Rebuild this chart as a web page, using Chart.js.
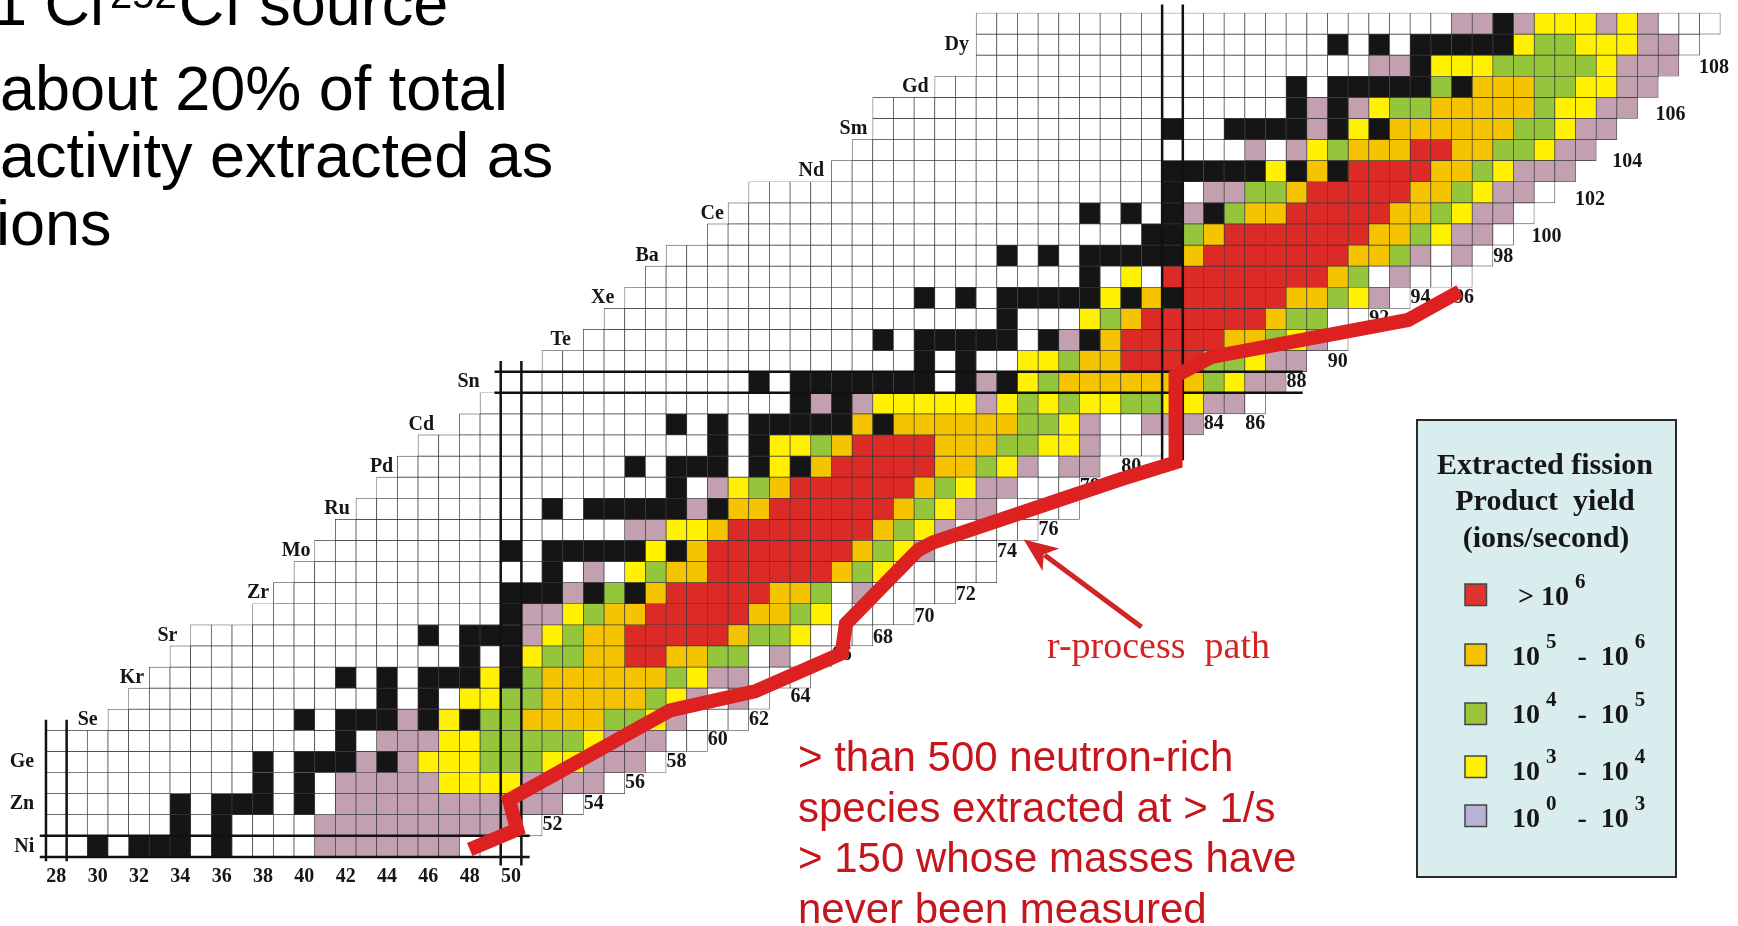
<!DOCTYPE html>
<html>
  <head>
    <script src="https://cdn.jsdelivr.net/npm/chart.js@4.4.1/dist/chart.umd.min.js"></script>
    <style>
      html, body { margin: 0; padding: 0; background: #ffffff; overflow: hidden; }
      .chart-container { position: relative; width: 1738px; height: 926px; }
    </style>
  </head>
  <body>
    <div class="chart-container"><canvas id="myChart"></canvas></div>
    <script>
      // proton number Z of each row and the first neutron number N drawn in it
      var rowZ = [28, 29, 30, 31, 32, 33, 34, 35, 36, 37, 38, 39, 40, 41, 42, 43, 44, 45, 46, 47,
                  48, 49, 50, 51, 52, 53, 54, 55, 56, 57, 58, 59, 60, 61, 62, 63, 64, 65, 66, 67];
      var rowStart = [28, 28, 28, 28, 28, 28, 31, 32, 33, 34, 35, 38, 39, 40, 41, 42, 43, 44, 45, 46,
                      48, 49, 50, 52, 54, 55, 56, 57, 58, 60, 61, 62, 66, 67, 68, 68, 71, 73, 73, 73];
      // cells of each row, run-length coded: w known, k stable, p 10^0-10^3, y 10^3-10^4,
      // g 10^4-10^5, o 10^5-10^6, r > 10^6
      var rowCells = [
        "2w k w 3k w k 4w 7p 3w",
        "6w k w k 4w 10p w",
        "6w k w 3k w k w 11p w",
        "10w k w k w 5p 4y 4p w",
        "10w k w 3k p k p 3y 3g 2y 3p w",
        "14w k w 3p 2y 5g y 3p 2w",
        "9w k w 3k p k y k 2g 4o 2g y p 3w",
        "12w k w k w 2y 2g 5o g y p w p w",
        "9w k w k w 3k y k g 6o g y 2p 3w",
        "14w k w k y 2g 2o 2r 2o 2g w p 2w",
        "11w k w 3k p y g 2o 5r o 2g y 3w",
        "12w k 2p y g 2o 5r 2o g y 4w",
        "11w 3k p k g k o 5r 2o g w p 4w",
        "12w k w p w y g 2o 6r o g y 5w",
        "9w k w 5k y k o 7r o g y p 3w",
        "14w 2p 2y o 7r o g y p 4w",
        "9w k w 5k p k 2o 6r o g y 2p 4w",
        "14w k w p y g o 6r o g y 2p 3w",
        "11w k w 3k w k y k o 5r 2o g y p w 2p",
        "14w k w k 2y g o 4r 3o 2g 2y p 3w",
        "10w k w k w 5k o k 6o 2g y p 2w 3p",
        "15w k p k p 5y p y g y g 2y 2g 2y 2p w",
        "12w k w 7k w k p k y g 7o g y 2p",
        "18w k w k 2w 2y g 2o 4r 2g y 2p",
        "14w k w 5k w k p k o 5r 2o g y p w",
        "19w k 3w y g o 6r o 2g 2w",
        "14w k w k w 5k y k o k 5r 2o g y p w",
        "21w k w y w 8r o g w p 3w",
        "16w k w k w 5k o 7r 2o g p w p w",
        "21w 2k g o 7r 2o g y 2p w",
        "17w k w k w k p k g 2o 5r 2o g y 2p w",
        "20w k w 2p 2g o 5r 2o g y 2p w",
        "16w 5k y k o k 4r 2o g y 3p",
        "19w p w p y g 3o 2r 2o 2g y 2p",
        "14w k 2w 4k p k y k 6o 2g y 2p",
        "20w k p k p y 2g 5o g 2y 2p",
        "17w k w 5k g k 3o 2g 2y 2p",
        "19w 2p k 3y 5g y 3p",
        "17w k w k w 5k y 2g 3y 2p w",
        "23w 2p k p 3y p y p 3w"
      ];
      var cellCodes = ["w", "k", "p", "y", "g", "o", "r"];
      var cellNames = ["known", "stable", "10^0 - 10^3", "10^3 - 10^4", "10^4 - 10^5", "10^5 - 10^6", "> 10^6"];
      var cellColors = ["#ffffff", "#151515", "#c2a0b0", "#fff100", "#94c53a", "#f5c300", "#dc2b26"];

      // element symbols written at the start of the even rows
      var elementZ = [28, 30, 32, 34, 36, 38, 40, 42, 44, 46, 48, 50, 52, 54, 56, 58, 60, 62, 64, 66];
      var elementSym = ["Ni", "Zn", "Ge", "Se", "Kr", "Sr", "Zr", "Mo", "Ru", "Pd", "Cd", "Sn",
                        "Te", "Xe", "Ba", "Ce", "Nd", "Sm", "Gd", "Dy"];
      var elementLabelN = [26.93, 26.93, 26.93, 30.0, 32.25, 33.86, 38.3, 40.3, 42.2, 44.3, 46.28, 48.48,
                           52.9, 55.0, 57.15, 60.3, 65.15, 67.24, 70.2, 72.15];

      // neutron numbers under the first columns, and along the lower edge
      var bottomTicks = [28, 30, 32, 34, 36, 38, 40, 42, 44, 46, 48, 50];
      var edgeLabels = [52, 54, 56, 58, 60, 62, 64, 66, 68, 70, 72, 74, 76, 78, 80, 84, 86, 88, 90,
                        92, 94, 96, 98, 100, 102, 104, 106, 108];
      var edgeLabelN = [52.0, 54.0, 56.0, 58.0, 60.0, 62.0, 64.0, 66.0, 68.0, 70.0, 72.0, 74.0, 76.0, 78.0,
                        80.0, 84.0, 86.0, 88.0, 90.0, 92.0, 94.0, 96.1, 98.0, 100.1, 102.2, 104.0, 106.1, 108.2];
      var edgeLabelZ = [29.0, 30.0, 31.0, 32.0, 33.05, 34.0, 35.1, 37.1, 37.9, 38.9, 39.9, 41.95, 43.0, 45.05,
                        46.0, 48.05, 48.05, 50.0, 50.95, 53.0, 54.0, 54.0, 55.95, 56.9, 58.65, 60.45, 62.65, 64.9];

      // r-process path
      var pathN = [48.0, 50.3, 49.9, 57.7, 61.8, 66.0, 66.2, 69.7, 70.4, 79.5, 82.15, 82.15, 83.9, 93.4, 95.9];
      var pathZ = [27.85, 28.8, 30.2, 34.45, 35.35, 37.15, 38.55, 42.05, 42.4, 45.4, 46.2, 50.3, 51.2, 52.95, 54.3];
      var arrowN = [80.5, 74.8];
      var arrowZ = [38.4, 42.55];

      // magic numbers: double lines
      var magicN = [28, 50, 82];
      var magicNFrom = [27.3, 27.1, 46.3];
      var magicNTo = [34.0, 51.0, 67.9];
      var magicZ = [28, 50];
      var magicZFrom = [27.2, 49.2];
      var magicZTo = [50.9, 88.3];

      var legendLabels = ["> 10^6", "10^5   -  10^6", "10^4   -  10^5", "10^3   -  10^4", "10^0   -  10^3"];
      var legendColors = ["#df3530", "#f5c300", "#9bc43a", "#fff100", "#b9b2d6"];

      function expandRow(code) {
        var out = [];
        code.split(" ").forEach(function (tok) {
          var n = tok.length > 1 ? parseInt(tok.slice(0, -1), 10) : 1;
          for (var i = 0; i < n; i++) out.push(tok.slice(-1));
        });
        return out;
      }

      var cellData = {};
      cellCodes.forEach(function (c) { cellData[c] = []; });
      rowZ.forEach(function (z, r) {
        expandRow(rowCells[r]).forEach(function (c, i) {
          var n = rowStart[r] + i;
          cellData[c].push({ x: [n - 0.5, n + 0.5], y: z });
        });
      });

      var datasets = [{
        type: "line",
        label: "r-process path",
        data: pathN.map(function (n, i) { return { x: n, y: pathZ[i] }; }),
        indexAxis: "x",
        borderColor: "#dd2020",
        borderWidth: 14,
        borderJoinStyle: "miter",
        borderCapStyle: "butt",
        pointRadius: 0,
        tension: 0,
        fill: false,
        order: 0
      }];
      cellCodes.forEach(function (c, i) {
        datasets.push({
          type: "bar",
          label: cellNames[i],
          data: cellData[c],
          backgroundColor: cellColors[i],
          borderColor: "#3b3b3b",
          borderWidth: 0.7,
          borderSkipped: false,
          grouped: false,
          barPercentage: 1,
          categoryPercentage: 1,
          order: 1
        });
      });

      var serif = '"Liberation Serif", "Times New Roman", serif';
      var sans = '"Liberation Sans", Arial, sans-serif';

      function drawPowerLabel(ctx, text, x, y) {
        // "^" marks a one digit exponent
        var parts = text.split("^");
        ctx.font = "bold 28px " + serif;
        ctx.fillText(parts[0], x, y);
        x += ctx.measureText(parts[0]).width;
        for (var i = 1; i < parts.length; i++) {
          var sup = parts[i].charAt(0), rest = parts[i].slice(1);
          ctx.font = "bold 21px " + serif;
          ctx.fillText(sup, x + 6, y - 17);
          x += 6 + ctx.measureText(sup).width;
          ctx.font = "bold 28px " + serif;
          ctx.fillText(rest, x, y);
          x += ctx.measureText(rest).width;
        }
      }

      var chartText = {
        id: "chartText",
        beforeDatasetsDraw: function (chart) {
          var ctx = chart.ctx, sx = chart.scales.x, sy = chart.scales.y;
          ctx.save();
          ctx.fillStyle = "#161616";
          ctx.font = "bold 20px " + serif;
          ctx.textBaseline = "middle";
          ctx.textAlign = "center";
          edgeLabels.forEach(function (lab, i) {
            ctx.fillText(String(lab), sx.getPixelForValue(edgeLabelN[i]), sy.getPixelForValue(edgeLabelZ[i]));
          });
          bottomTicks.forEach(function (t) {
            ctx.fillText(String(t), sx.getPixelForValue(t), sy.getPixelForValue(26.56));
          });
          ctx.textAlign = "right";
          elementSym.forEach(function (s, i) {
            ctx.fillText(s, sx.getPixelForValue(elementLabelN[i]), sy.getPixelForValue(elementZ[i]));
          });
          ctx.restore();
        },
        beforeDatasetDraw: function (chart, args) {
          if (args.meta.type !== "line") return;
          var ctx = chart.ctx, sx = chart.scales.x, sy = chart.scales.y;
          ctx.save();
          ctx.strokeStyle = "#111111";
          ctx.lineWidth = 2.5;
          ctx.beginPath();
          magicN.forEach(function (n, i) {
            [-0.5, 0.5].forEach(function (d) {
              ctx.moveTo(sx.getPixelForValue(n + d), sy.getPixelForValue(magicNFrom[i]));
              ctx.lineTo(sx.getPixelForValue(n + d), sy.getPixelForValue(magicNTo[i]));
            });
          });
          magicZ.forEach(function (z, i) {
            [-0.5, 0.5].forEach(function (d) {
              ctx.moveTo(sx.getPixelForValue(magicZFrom[i]), sy.getPixelForValue(z + d));
              ctx.lineTo(sx.getPixelForValue(magicZTo[i]), sy.getPixelForValue(z + d));
            });
          });
          ctx.stroke();
          ctx.restore();
        },
        afterDatasetsDraw: function (chart) {
          // arrow pointing at the path
          var ctx = chart.ctx, sx = chart.scales.x, sy = chart.scales.y;
          var x1 = sx.getPixelForValue(arrowN[0]), y1 = sy.getPixelForValue(arrowZ[0]);
          var x2 = sx.getPixelForValue(arrowN[1]), y2 = sy.getPixelForValue(arrowZ[1]);
          var a = Math.atan2(y2 - y1, x2 - x1), head = 34, half = 14;
          var bx = x2 - head * Math.cos(a), by = y2 - head * Math.sin(a);
          ctx.save();
          ctx.strokeStyle = "#d42323";
          ctx.fillStyle = "#d42323";
          ctx.lineWidth = 5;
          ctx.beginPath();
          ctx.moveTo(x1, y1);
          ctx.lineTo(bx + 8 * Math.cos(a), by + 8 * Math.sin(a));
          ctx.stroke();
          ctx.beginPath();
          ctx.moveTo(x2, y2);
          ctx.lineTo(bx + half * Math.sin(a), by - half * Math.cos(a));
          ctx.lineTo(bx + 9 * Math.cos(a), by + 9 * Math.sin(a));
          ctx.lineTo(bx - half * Math.sin(a), by + half * Math.cos(a));
          ctx.closePath();
          ctx.fill();
          ctx.restore();
        },
        afterDraw: function (chart) {
          var ctx = chart.ctx;
          ctx.save();
          ctx.textBaseline = "alphabetic";
          ctx.textAlign = "left";

          // slide text, cut by the top and left edges
          ctx.fillStyle = "#000000";
          ctx.font = "63px " + sans;
          var x = -8;
          ctx.fillText("1 Ci", x, 25);
          x += ctx.measureText("1 Ci").width + 6;
          ctx.font = "40px " + sans;
          ctx.fillText("252", x, 8);
          x += ctx.measureText("252").width + 2;
          ctx.font = "63px " + sans;
          ctx.fillText("Cf source", x, 25);
          ctx.fillText("about 20% of total", 0, 110);
          ctx.fillText("activity extracted as", 0, 177);
          ctx.fillText("ions", -4, 245);

          // red notes
          ctx.fillStyle = "#c4161c";
          ctx.font = "42px " + sans;
          ["> than 500 neutron-rich", "species extracted at > 1/s", "> 150 whose masses have",
           "never been measured"].forEach(function (t, i) {
            ctx.fillText(t, 798, 771 + i * 50.5);
          });
          ctx.fillStyle = "#d42323";
          ctx.font = "38px " + serif;
          ctx.fillText("r-process  path", 1047, 658);

          // legend box
          ctx.fillStyle = "#d9ecee";
          ctx.fillRect(1417, 420, 259, 457);
          ctx.strokeStyle = "#2a2a2a";
          ctx.lineWidth = 2;
          ctx.strokeRect(1417, 420, 259, 457);
          ctx.fillStyle = "#161616";
          ctx.font = "bold 30px " + serif;
          ctx.textAlign = "center";
          ctx.fillText("Extracted fission", 1545, 474);
          ctx.fillText("Product  yield", 1545, 510);
          ctx.fillText("(ions/second)", 1546, 547);
          ctx.textAlign = "left";
          var boxTop = [584, 644, 703, 756, 805];
          var textBase = [605, 665, 723, 780, 827];
          legendLabels.forEach(function (lab, i) {
            ctx.fillStyle = legendColors[i];
            ctx.fillRect(1465, boxTop[i], 21.5, 21.5);
            ctx.strokeStyle = "#444444";
            ctx.lineWidth = 1.5;
            ctx.strokeRect(1465, boxTop[i], 21.5, 21.5);
            ctx.fillStyle = "#161616";
            drawPowerLabel(ctx, lab, i === 0 ? 1518 : 1512, textBase[i]);
          });
          ctx.restore();
        }
      };

      var ctx = document.getElementById("myChart").getContext("2d");
      var chart = new Chart(ctx, {
        type: "bar",
        data: { datasets: datasets },
        options: {
          indexAxis: "y",
          responsive: true,
          maintainAspectRatio: false,
          animation: false,
          events: [],
          layout: { padding: 0 },
          scales: {
            x: { type: "linear", min: 25.276, max: 109.36, display: false, offset: false },
            y: { type: "linear", min: 24.227, max: 68.114, display: false, offset: false, ticks: { stepSize: 50 } }
          },
          plugins: {
            legend: { display: false },
            tooltip: { enabled: false }
          }
        },
        plugins: [chartText]
      });
    </script>
  </body>
</html>
